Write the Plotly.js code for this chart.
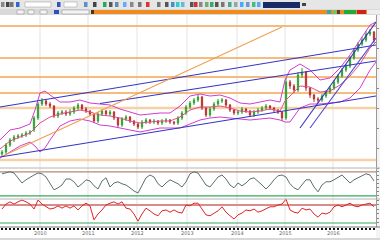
<!DOCTYPE html>
<html><head><meta charset="utf-8">
<script src="https://cdn.plot.ly/plotly-3.0.1.min.js"></script>
<style>html,body{margin:0;padding:0;background:#fff;overflow:hidden}#chart{width:380px;height:240px}</style>
</head><body><div id="chart"></div>
<script>
// ---- price candles (one per bar) ----
const openP  = [14,16,23,28,31,32,33,35,38,50, 64,67,64,62,52,55,56,54,56,60, 63,59,57,54,47,54,57,54,56,50, 43,49,51,47,44,41,46,48,46,47, 45,47,48,46,45,50,55,61,65,68, 71,60,53,59,64,67,68,63,58,55, 56,59,57,53,56,58,60,62,60,58, 56,50,86,82,78,93,96,80,73,69, 68,72,76,80,86,92,98,102,110,118, 124,128,134,136];
const highP  = [18,25,30,33,34,35,37,38,52,66, 70,69,66,63,57,58,58,59,62,65, 64,61,58,55,56,59,58,58,57,51, 51,53,52,48,45,48,50,49,49,48, 49,50,49,47,52,57,63,67,70,73, 72,61,61,66,69,70,69,64,59,58, 61,60,58,58,60,62,64,63,61,59, 57,90,88,84,96,100,97,81,74,71, 74,78,82,88,94,100,104,112,120,126, 131,137,139,137];
const lowP   = [12,14,21,26,29,30,31,33,36,48, 62,62,60,50,50,53,52,52,54,58, 57,55,52,45,45,52,52,52,48,41, 41,47,45,42,39,39,44,44,44,43, 43,45,44,43,43,48,53,59,63,66, 58,51,51,57,62,65,61,56,53,53, 54,55,51,51,54,56,58,58,56,54, 47,48,79,75,76,90,77,70,66,65, 66,70,74,78,84,90,96,100,108,116, 122,126,132,125];
const closeP = [16,23,28,31,32,33,35,36,50,64, 67,64,62,52,55,56,54,56,60,63, 59,57,54,47,54,57,54,56,50,43, 49,51,47,44,41,46,48,46,47,45, 47,48,46,45,50,55,61,65,68,71, 60,53,59,64,67,68,63,58,55,56, 59,57,53,56,58,60,62,60,58,56, 50,86,82,78,93,96,80,73,69,68, 72,76,80,86,92,98,102,110,118,124, 128,134,136,128];

// ---- Bollinger bands (read on a coarser time grid, in bar units) ----
const bandT   = [0,2.5,5,7.5,8.75,10,11.25,12.5,15,17.5,20,22.5,25,27.5,30,32.5,35,37.5,40,42.5,45,47.5,50,52.5,55,57.5,60,62.5,65,67.5,70,71.25,72.5,75,77.5,80,82.5,85,87.5,90,92.5,94];
const bandUp  = [28,38,40,44,58,75,77,73,66,66,68,65,64,63,59,56,53,54,55,55,62,72,74,72,73,70,65,64,66,68,66,88,98,104,98,88,90,100,113,128,143,146];
const bandMid = [19,27,31,35,40,45,48,51,54,56,58,56,53,52,50,47,45,46,47,47,51,58,61,61,62,60,57,56,57,59,57,67,72,82,81,76,77,83,92,104,120,126];
const bandLow = [10,16,22,26,22,16,20,28,42,47,49,47,43,42,40,38,36,38,40,40,40,44,48,50,51,50,49,48,49,50,48,46,46,60,64,64,65,66,70,80,98,106];

// ---- horizontal support / resistance levels ----
const levelsStrong = [142,110,91,75];
const levelsSoft   = [60,8];

// ---- trend lines (start / end in bar units and price) ----
const trendNames  = ["chanTop","chanMid","chanLow","steep1","steep2","fan"];
const trendStartT = [0,25,0,75,77.5,1.25];
const trendStartV = [61,64.5,11,40,40,13];
const trendEndT   = [94,94,94,94,94,70.5];
const trendEndV   = [123,107,72,146,130,141];

// ---- oscillator panel ----
const osc = [75,77,80,77,65,52,60,67,72,77, 75,67,50,35,40,47,62,62,55,42, 50,60,57,45,37,57,65,42,52,55, 50,47,40,32,27,47,65,72,67,50, 42,52,60,55,50,42,55,75,80,77, 62,47,42,55,67,72,62,47,40,52, 45,52,62,65,57,47,37,47,60,70, 72,67,50,40,35,47,60,60,42,30, 47,55,55,60,65,72,62,52,60,65, 72,75,72,57];
const oscLevels = [80,20];

// ---- momentum panel ----
const mom = [61,72,77,72,77,81,77,72,61,81, 72,66,61,63,68,63,68,63,68,59, 68,74,68,37,50,59,70,74,77,72, 77,63,61,50,34,50,63,57,50,46, 57,59,54,59,54,52,70,68,74,74, 61,48,46,52,57,66,54,46,39,48, 52,59,57,61,54,57,61,66,66,70, 72,83,59,54,52,63,59,61,50,43, 52,50,54,66,70,66,70,74,68,66, 70,72,74,66];
const momLevels = [70,30];

// ---- date axis ----
const dateTicks  = [10,22,34.25,46.75,59.25,71.25,83.25];
const dateLabels = ["2010","2011","2012","2013","2014","2015","2016"];

const T = closeP.map((_, i) => i + 0.5);
const W = 380, H = 240;
const px = x => x / W, py = y => 1 - y / H;

const traces = [];
traces.push({type:'scatter',mode:'lines',x:bandT,y:bandUp,line:{color:'#d23cd2',width:1},xaxis:'x',yaxis:'y',hoverinfo:'skip'});
traces.push({type:'scatter',mode:'lines',x:bandT,y:bandLow,line:{color:'#d23cd2',width:1},xaxis:'x',yaxis:'y',hoverinfo:'skip'});
traces.push({type:'scatter',mode:'lines',x:bandT,y:bandMid,line:{color:'#e0508a',width:1},xaxis:'x',yaxis:'y',hoverinfo:'skip'});
const trendColors = ['#3434c4','#3434c4','#3434c4','#3434c4','#4a4ad0','#f0a050'];
trendNames.forEach((n, k) => {
  traces.push({type:'scatter',mode:'lines',name:n,x:[trendStartT[k],trendEndT[k]],y:[trendStartV[k],trendEndV[k]],
    line:{color:trendColors[k],width:1.1},xaxis:'x',yaxis:'y',hoverinfo:'skip'});
});
traces.push({type:'candlestick',x:T,open:openP,high:highP,low:lowP,close:closeP,xaxis:'x',yaxis:'y',
  increasing:{line:{color:'#2f9f2f',width:1},fillcolor:'#3fcf3f'},
  decreasing:{line:{color:'#b83030',width:1},fillcolor:'#e03a3a'},
  whiskerwidth:0,hoverinfo:'skip'});
traces.push({type:'scatter',mode:'lines',x:T,y:osc,line:{color:'#58706c',width:1},xaxis:'x',yaxis:'y2',hoverinfo:'skip'});
traces.push({type:'scatter',mode:'lines',x:T,y:mom,line:{color:'#e02424',width:1},xaxis:'x',yaxis:'y3',hoverinfo:'skip'});

const shapes = [];
dateTicks.forEach(t => shapes.push({type:'line',xref:'x',yref:'paper',x0:t,x1:t,y0:py(227),y1:py(15),line:{color:'#e3e3e3',width:1},layer:'below'}));
levelsStrong.forEach(v => shapes.push({type:'line',xref:'paper',yref:'y',x0:0,x1:px(376),y0:v,y1:v,line:{color:'#f2a655',width:1.3},layer:'below'}));
levelsSoft.forEach(v => shapes.push({type:'line',xref:'paper',yref:'y',x0:0,x1:px(376),y0:v,y1:v,line:{color:'#f6d0a6',width:2.6},layer:'below'}));
const oscColors = ['#b88878','#3aa860'];
oscLevels.forEach((v,k) => shapes.push({type:'line',xref:'paper',yref:'y2',x0:0,x1:px(376),y0:v,y1:v,line:{color:oscColors[k],width:1.2},layer:'below'}));
const momColors = ['#d88c8c','#3aa860'];
momLevels.forEach((v,k) => shapes.push({type:'line',xref:'paper',yref:'y3',x0:0,x1:px(376),y0:v,y1:v,line:{color:momColors[k],width:k===0?2:1.1},layer:'below'}));
[[168,'#b4b4b4'],[199,'#b4b4b4'],[227,'#777']].forEach(([y,c]) =>
  shapes.push({type:'line',xref:'paper',yref:'paper',x0:0,x1:1,y0:py(y),y1:py(y),line:{color:c,width:1}}));
shapes.push({type:'rect',xref:'paper',yref:'paper',x0:px(376),x1:1,y0:0,y1:py(15),fillcolor:'#f4f4f4',line:{width:0},layer:'below'});
shapes.push({type:'rect',xref:'paper',yref:'paper',x0:0,x1:1,y0:0,y1:py(238),fillcolor:'#d8d8d8',line:{width:0}});
const R = (x0,y0,x1,y1,c,lc) => shapes.push({type:'rect',xref:'paper',yref:'paper',x0:px(x0),x1:px(x1),y0:py(y1),y1:py(y0),fillcolor:c,line:{width:lc?0.6:0,color:lc||c}});
R(0,0,380,9,'#e6e6e6');
R(0,9,380,15,'#d9d9d9');
R(91,10,380,14,'#f08c1e');
R(17,10,24,14,'#f4f4f4','#999');R(28,10,34,14,'#f4f4f4','#999');R(40,10,47,14,'#f4f4f4','#999');
R(54,10,59,14,'#3050c0');R(62,10,89,14,'#f4f4f4','#999');R(91,10,94,14,'#553311');
const icons = [[1,'#888'],[6,'#444'],[10,'#777'],[16,'#3366cc'],[57,'#3355bb'],[84,'#5a8fd0'],[93,'#444'],[103,'#2a5'],[109,'#556'],[115,'#68a'],[123,'#6af'],[130,'#888'],[138,'#777'],[146,'#d33'],[157,'#777'],[165,'#555'],[171,'#39c'],[176,'#3cc'],[181,'#6bd'],[190,'#555'],[194,'#c33'],[199,'#888'],[205,'#7a7'],[210,'#3a6'],[215,'#555'],[221,'#777'],[228,'#4a8'],[234,'#8aa'],[240,'#4af'],[246,'#69c'],[252,'#4b8'],[257,'#5af']];
icons.forEach(([x,c]) => R(x,2,x+3.5,7,c));
R(25,2,51,7,'#fff','#aaa');R(64,2,77,7,'#fff','#aaa');
R(263,2,300,8,'#1a2a66');R(302,3,306,6,'#444');
R(327,10,331,14,'#3aa');R(333,10,336,14,'#6c6');R(337,10,340,14,'#444');
R(344,10,356,14,'#22aa33');R(357,10,366,14,'#cc2222');R(367,10,380,14,'#eeeeee');

const annotations = dateTicks.map((t,k) => ({xref:'x',yref:'paper',x:t,y:py(233),text:dateLabels[k],showarrow:false,
  font:{family:'DejaVu Sans',size:5,color:'#666'},xanchor:'center',yanchor:'middle'}));

const axY = (dom, rng) => ({domain:dom,range:rng,side:'right',showticklabels:false,ticks:'outside',ticklen:2,tickcolor:'#888',
  showgrid:false,zeroline:false,showline:true,linecolor:'#999',linewidth:1,anchor:'x',fixedrange:true,nticks:8});

const layout = {
  width:W,height:H,margin:{l:0,r:0,t:0,b:0},paper_bgcolor:'#ffffff',plot_bgcolor:'#ffffff',showlegend:false,
  boxgap:0.55,
  xaxis:{domain:[0,376/380],range:[0,94],anchor:'y3',showgrid:false,zeroline:false,showline:false,
    ticks:'outside',tickmode:'linear',tick0:0.5,dtick:1,ticklen:2,tickwidth:2,tickcolor:'#111',showticklabels:false,
    rangeslider:{visible:false},fixedrange:true},
  yaxis:axY([0.3,0.9375],[0,153]),
  yaxis2:axY([0.17083,0.3],[12,89.5]),
  yaxis3:axY([0.05417,0.17083],[21.1,83.3]),
  shapes:shapes,annotations:annotations
};
Plotly.newPlot('chart',traces,layout,{staticPlot:true,displayModeBar:false});
</script></body></html>
